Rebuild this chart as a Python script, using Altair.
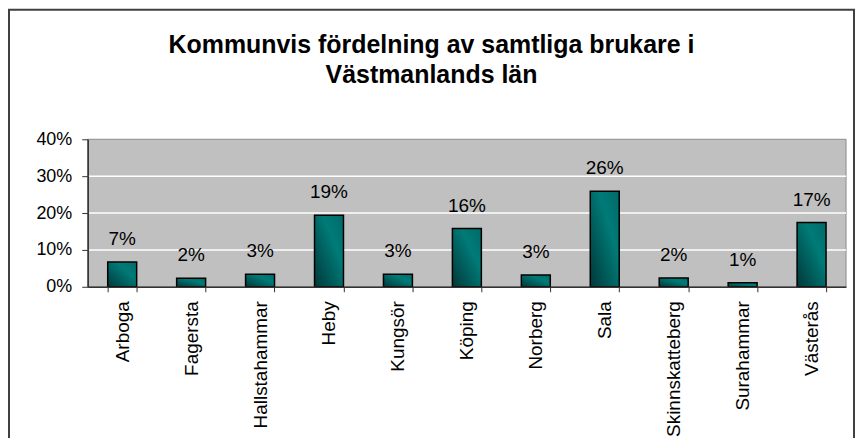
import altair as alt
import pandas as pd

kommuner = ["Arboga", "Fagersta", "Hallstahammar", "Heby", "Kungsör", "Köping",
            "Norberg", "Sala", "Skinnskatteberg", "Surahammar", "Västerås"]
andel = [0.067, 0.023, 0.034, 0.194, 0.034, 0.158, 0.032, 0.259, 0.024, 0.011, 0.174]
y_ticks = [0, 0.1, 0.2, 0.3, 0.4]
grid_values = [0.1, 0.2, 0.3]
title_lines = ["Kommunvis fördelning av samtliga brukare i", "Västmanlands län"]

W, H = 761, 148
FONT = "Liberation Sans"

df = pd.DataFrame({"kommun": kommuner, "andel": andel})
one = pd.DataFrame({"a": [0]})
grid_df = pd.DataFrame({"andel": grid_values})

yscale = alt.Scale(domain=[0, 0.4], nice=False)
xscale = alt.Scale(paddingInner=0.58, paddingOuter=0.29)

xaxis = alt.Axis(title=None, labelAngle=-90, tickBand="extent", tickSize=5,
                 labelPadding=9, labelFontSize=19, labelFont=FONT, labelColor="black",
                 domainColor="#333333", tickColor="#333333", domainWidth=1.5, zindex=1)
yaxis = alt.Axis(title=None, values=y_ticks, format=".0%", tickSize=6, labelPadding=10,
                 labelFontSize=18, labelFont=FONT, labelColor="black", grid=False,
                 domainColor="#333333", tickColor="#333333", domainWidth=1.5, zindex=1)

outer = alt.Chart(one).mark_rect(fill="white", stroke="#404040", strokeWidth=2).encode(
    x=alt.value(-79), x2=alt.value(769), y=alt.value(-130), y2=alt.value(420)
)
plotbg = alt.Chart(one).mark_rect(fill="#C0C0C0", stroke="#8c8c8c", strokeWidth=1).encode(
    x=alt.value(0), x2=alt.value(W), y=alt.value(0), y2=alt.value(H)
)
grid = alt.Chart(grid_df).mark_rule(color="white", strokeWidth=1.5).encode(
    y=alt.Y("andel:Q", scale=yscale, axis=yaxis)
)

gradient = alt.LinearGradient(
    gradient="linear",
    stops=[alt.GradientStop(color="#003838", offset=0),
           alt.GradientStop(color="#007b78", offset=0.65),
           alt.GradientStop(color="#006a68", offset=1)],
    x1=0, y1=1, x2=1, y2=0,
)

bars = alt.Chart(df).mark_bar(color=gradient, stroke="black", strokeWidth=1.5).encode(
    x=alt.X("kommun:N", sort=None, scale=xscale, axis=xaxis),
    y=alt.Y("andel:Q", scale=yscale, axis=yaxis),
)
labels = alt.Chart(df).mark_text(dy=-17, baseline="alphabetic", fontSize=19, font=FONT,
                                 color="black").encode(
    x=alt.X("kommun:N", sort=None, scale=xscale, axis=xaxis),
    y=alt.Y("andel:Q", scale=yscale, axis=yaxis),
    text=alt.Text("andel:Q", format=".0%"),
)

chart = alt.layer(outer, plotbg, grid, bars, labels).properties(
    width=W, height=H,
    title=alt.TitleParams(title_lines, fontSize=25, font=FONT, fontWeight="bold",
                          color="black", lineHeight=31, offset=-80, anchor="middle",
                          frame="bounds"),
    autosize=alt.AutoSizeParams(type="none"),
    padding={"left": 80, "top": 131, "right": 10, "bottom": 151},
    background="white",
).configure_view(strokeWidth=0)

chart.save("out.html", embed_options={"renderer": "svg", "actions": False})
